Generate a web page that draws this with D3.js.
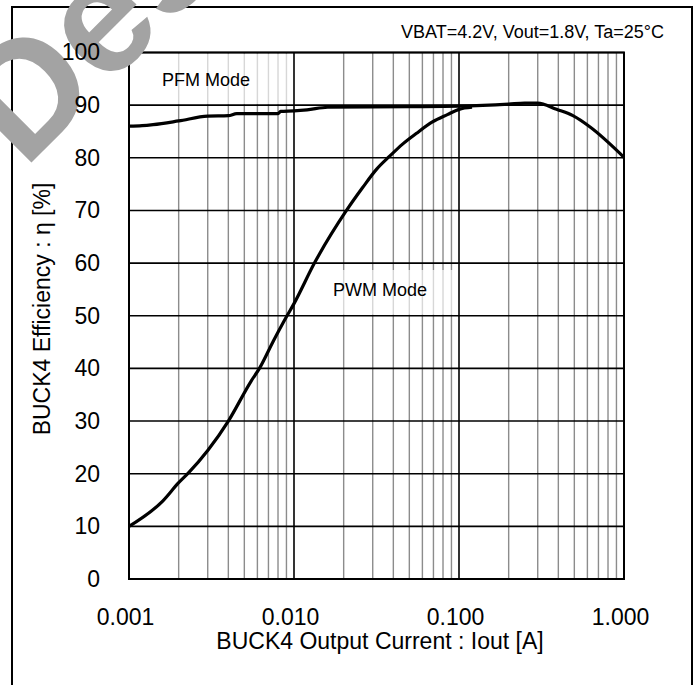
<!DOCTYPE html>
<html>
<head>
  <meta charset="utf-8">
  <title>BUCK4 Efficiency</title>
  <style>
  body { margin: 0; background: #fff; }
  text { font-family: "Liberation Sans", Arial, sans-serif; fill: #000; }
  .grid-minor { stroke: #8c8c8c; stroke-width: 1.4; }
  .grid-major { stroke: #000; stroke-width: 1.6; }
  .curve { fill: none; stroke: #000; stroke-width: 3.2; stroke-linejoin: round; }
  </style>
</head>
<body>
<script src="https://cdnjs.cloudflare.com/ajax/libs/d3/7.8.5/d3.min.js"></script>
<script>
// PFM curve (continues through the shared high-current part)
var pfmCurrent = [0.001, 0.0012, 0.0014, 0.002, 0.003, 0.004, 0.0045, 0.008, 0.0083, 0.01, 0.012, 0.016, 0.05, 0.1, 0.2, 0.25, 0.3, 0.39, 0.49, 0.62, 1.0];
var pfmEff     = [86.0,  86.1,   86.3,   87.0,  87.9,  88.0,  88.4,   88.4,  88.8,   88.9, 89.1,  89.6,  89.7, 89.8, 90.2, 90.4, 90.4, 89.2, 88.0, 85.9, 80.1];

// PWM curve
var pwmCurrent = [0.001, 0.0016, 0.002, 0.0023, 0.003, 0.004, 0.0055, 0.0062, 0.0075, 0.009, 0.01, 0.0133, 0.0208, 0.026, 0.0316, 0.038, 0.0455, 0.055, 0.069, 0.085, 0.1, 0.12];
var pwmEff     = [10.0,  14.8,   18.3,  20.2,   24.4,  30.0,  37.6,   40.1,   45.2,   49.8,  52.3, 60.0,   70.0,   74.3,  77.8,   80.3,  82.6,   84.6,  86.8,  88.2,  89.2, 89.6];

var xTicks = [0.001, 0.01, 0.1, 1];
var yTicks = [0, 10, 20, 30, 40, 50, 60, 70, 80, 90, 100];

var W = 700, H = 685;
var plotL = 129, plotR = 624, plotT = 52.5, plotB = 579;

var svg = d3.select("body").append("svg")
    .attr("width", W)
    .attr("height", H);

// outer frame
svg.append("rect")
    .attr("x", 12).attr("y", 7)
    .attr("width", 680).attr("height", 690)
    .attr("fill", "none").attr("stroke", "#000").attr("stroke-width", 2);

var x = d3.scaleLog().domain([0.001, 1]).range([plotL, plotR]);
var y = d3.scaleLinear().domain([0, 100]).range([plotB, plotT]);

// vertical grid: minor gray, decades black
var xs = x.ticks();
svg.append("g").selectAll("line")
    .data(xs.filter(function(d) { return xTicks.indexOf(d) < 0; }))
  .enter().append("line")
    .attr("class", "grid-minor")
    .attr("x1", function(d) { return x(d); }).attr("x2", function(d) { return x(d); })
    .attr("y1", plotT).attr("y2", plotB);

// white label boxes that fade the grid behind the mode labels
svg.append("rect").attr("x", 135).attr("y", plotT + 1).attr("width", 156).attr("height", y(90) - plotT - 2)
    .attr("fill", "#fff").attr("opacity", 0.65);
svg.append("rect").attr("x", 338).attr("y", 270).attr("width", 120).attr("height", y(50) - 271)
    .attr("fill", "#fff").attr("opacity", 0.65);

svg.append("g").selectAll("line")
    .data(xTicks)
  .enter().append("line")
    .attr("class", "grid-major")
    .attr("x1", function(d) { return x(d); }).attr("x2", function(d) { return x(d); })
    .attr("y1", plotT).attr("y2", plotB);

svg.append("g").selectAll("line")
    .data(yTicks)
  .enter().append("line")
    .attr("class", "grid-major")
    .attr("x1", plotL).attr("x2", plotR)
    .attr("y1", function(d) { return y(d); }).attr("y2", function(d) { return y(d); });

svg.append("rect")
    .attr("x", plotL).attr("y", plotT)
    .attr("width", plotR - plotL).attr("height", plotB - plotT)
    .attr("fill", "none").attr("stroke", "#000").attr("stroke-width", 2);

// curves
var line = d3.line()
    .curve(d3.curveMonotoneX)
    .x(function(d) { return x(d[0]); })
    .y(function(d) { return y(d[1]); });

svg.append("path").attr("class", "curve")
    .attr("d", line(d3.zip(pwmCurrent, pwmEff)));
svg.append("path").attr("class", "curve")
    .attr("d", line(d3.zip(pfmCurrent, pfmEff)));

// watermark
svg.append("text")
    .attr("transform", "translate(24,170) rotate(-45)")
    .style("font-size", "158px").style("font-weight", "bold")
    .style("fill", "#a3a3a3")
    .text("Design");

// axes
var xAxis = svg.append("g")
    .attr("transform", "translate(0," + plotB + ")")
    .call(d3.axisBottom(x).tickValues(xTicks).tickFormat(d3.format(".3f")).tickSize(0).tickPadding(30));
xAxis.select(".domain").remove();
xAxis.selectAll("text").attr("x", -4).style("font-size", "23px").style("font-family", "Liberation Sans, Arial, sans-serif");

var yAxis = svg.append("g")
    .attr("transform", "translate(" + plotL + ",0)")
    .call(d3.axisLeft(y).tickValues(yTicks).tickSize(0).tickPadding(29));
yAxis.select(".domain").remove();
yAxis.selectAll("text").style("font-size", "23px").style("font-family", "Liberation Sans, Arial, sans-serif");

// titles
svg.append("text")
    .attr("x", 380).attr("y", 649)
    .attr("text-anchor", "middle")
    .style("font-size", "23px")
    .text("BUCK4 Output Current : Iout [A]");

svg.append("text")
    .attr("transform", "translate(50,309) rotate(-90)")
    .attr("text-anchor", "middle")
    .style("font-size", "23px")
    .text("BUCK4 Efficiency : η [%]");

svg.append("text")
    .attr("x", 664).attr("y", 38)
    .attr("text-anchor", "end")
    .style("font-size", "18px")
    .text("VBAT=4.2V, Vout=1.8V, Ta=25°C");

svg.append("text").attr("x", 162).attr("y", 86)
    .style("font-size", "18px").text("PFM Mode");
svg.append("text").attr("x", 333).attr("y", 296)
    .style("font-size", "18px").text("PWM Mode");
</script>
</body>
</html>
